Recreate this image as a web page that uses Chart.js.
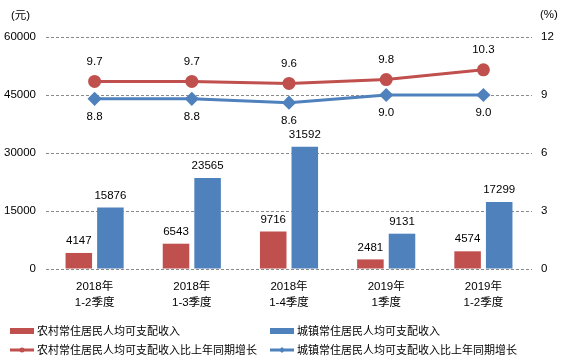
<!DOCTYPE html>
<html>
<head>
<meta charset="utf-8">
<script src="https://cdn.jsdelivr.net/npm/chart.js@4.4.0/dist/chart.umd.min.js"></script>
<style>
  html, body { margin: 0; padding: 0; background: #fff; }
  #wrap { width: 570px; height: 362px; position: relative; }
</style>
</head>
<body>
<div id="wrap"><canvas id="incomeChart"></canvas></div>
<script>
const periods = [['2018年', '1-2季度'], ['2018年', '1-3季度'], ['2018年', '1-4季度'], ['2019年', '1季度'], ['2019年', '1-2季度']];
const ruralIncome = [4147, 6543, 9716, 2481, 4574];
const urbanIncome = [15876, 23565, 31592, 9131, 17299];
const ruralGrowth = [9.7, 9.7, 9.6, 9.8, 10.3];
const urbanGrowth = [8.8, 8.8, 8.6, 9.0, 9.0];
const seriesNames = ['农村常住居民人均可支配收入', '城镇常住居民人均可支配收入',
    '农村常住居民人均可支配收入比上年同期增长', '城镇常住居民人均可支配收入比上年同期增长'];

const RED = '#C0504D';
const BLUE = '#4F81BD';
const FONT = "'Liberation Sans', 'Noto Sans CJK SC', sans-serif";

// value labels, unit captions and the 2x2 legend
const extras = {
    id: 'extras',
    afterDatasetsDraw(chart) {
        const ctx = chart.ctx;
        ctx.save();
        ctx.fillStyle = '#000';
        ctx.textAlign = 'center';
        ctx.textBaseline = 'middle';
        ctx.font = '11.5px ' + FONT;
        chart.data.datasets.forEach((ds, i) => {
            const meta = chart.getDatasetMeta(i);
            meta.data.forEach((el, j) => {
                const v = ds.data[j];
                if (ds.type === 'bar') {
                    ctx.fillText(String(v), el.x, el.y - 12);
                } else if (i === 2) {
                    ctx.fillText(v.toFixed(1), el.x, el.y - 20);
                } else {
                    ctx.fillText(v.toFixed(1), el.x, el.y + 18);
                }
            });
        });

        ctx.textAlign = 'left';
        ctx.fillText('(元)', 11, 16);
        ctx.fillText('(%)', 540, 15);

        // legend
        ctx.font = '11px ' + FONT;
        const cols = [10, 270];
        const rows = [331, 350];
        chart.data.datasets.forEach((ds, i) => {
            const x = cols[i % 2];
            const y = rows[Math.floor(i / 2)];
            ctx.fillStyle = ds.borderColor;
            if (ds.type === 'bar') {
                ctx.fillRect(x, y - 3, 24, 6);
            } else {
                ctx.fillRect(x, y - 1.5, 24, 3);
                ctx.beginPath();
                if (ds.pointStyle === 'circle') {
                    ctx.arc(x + 12, y, 2.5, 0, Math.PI * 2);
                } else {
                    ctx.moveTo(x + 12, y - 3);
                    ctx.lineTo(x + 15, y);
                    ctx.lineTo(x + 12, y + 3);
                    ctx.lineTo(x + 9, y);
                    ctx.closePath();
                }
                ctx.fill();
            }
            ctx.fillStyle = '#000';
            ctx.fillText(ds.label, x + 27, y + 1);
        });
        ctx.restore();
    }
};

const ctx = document.getElementById('incomeChart');

new Chart(ctx, {
    data: {
        labels: periods,
        datasets: [
            {
                type: 'bar',
                label: seriesNames[0],
                data: ruralIncome,
                backgroundColor: RED,
                borderColor: RED,
                yAxisID: 'y',
                categoryPercentage: 0.65,
                barPercentage: 0.84,
                order: 2
            },
            {
                type: 'bar',
                label: seriesNames[1],
                data: urbanIncome,
                backgroundColor: BLUE,
                borderColor: BLUE,
                yAxisID: 'y',
                categoryPercentage: 0.65,
                barPercentage: 0.84,
                order: 2
            },
            {
                type: 'line',
                label: seriesNames[2],
                data: ruralGrowth,
                borderColor: RED,
                backgroundColor: RED,
                borderWidth: 3,
                pointStyle: 'circle',
                pointRadius: 5,
                yAxisID: 'y1',
                order: 1
            },
            {
                type: 'line',
                label: seriesNames[3],
                data: urbanGrowth,
                borderColor: BLUE,
                backgroundColor: BLUE,
                borderWidth: 3,
                pointStyle: 'rectRot',
                pointRadius: 5,
                yAxisID: 'y1',
                order: 1
            }
        ]
    },
    options: {
        responsive: true,
        maintainAspectRatio: false,
        animation: false,
        layout: {
            padding: { top: 37, bottom: 50, left: 0, right: 0 }
        },
        plugins: {
            legend: { display: false },
            tooltip: { enabled: false }
        },
        scales: {
            x: {
                grid: { display: false, drawTicks: false },
                border: { display: false },
                ticks: {
                    color: '#000',
                    padding: 9,
                    font: { family: FONT, size: 11.5, lineHeight: 1.45 }
                },
                afterFit(scale) { scale.height = 43; }
            },
            y: {
                position: 'left',
                min: 0,
                max: 60000,
                ticks: {
                    stepSize: 15000,
                    color: '#000',
                    padding: 10,
                    font: { family: FONT, size: 11.5 },
                    callback: function(value) {
                        return String(value);
                    }
                },
                grid: { color: '#8a8a8a', drawTicks: false },
                border: { display: false, dash: [3, 2] },
                afterFit(scale) { scale.width = 46; }
            },
            y1: {
                position: 'right',
                min: 0,
                max: 12,
                ticks: {
                    stepSize: 3,
                    color: '#000',
                    padding: 9,
                    font: { family: FONT, size: 11.5 },
                    callback: function(value) {
                        return String(value);
                    }
                },
                grid: { display: false, drawTicks: false },
                border: { display: false },
                afterFit(scale) { scale.width = 38; }
            }
        }
    },
    plugins: [extras]
});
</script>
</body>
</html>
